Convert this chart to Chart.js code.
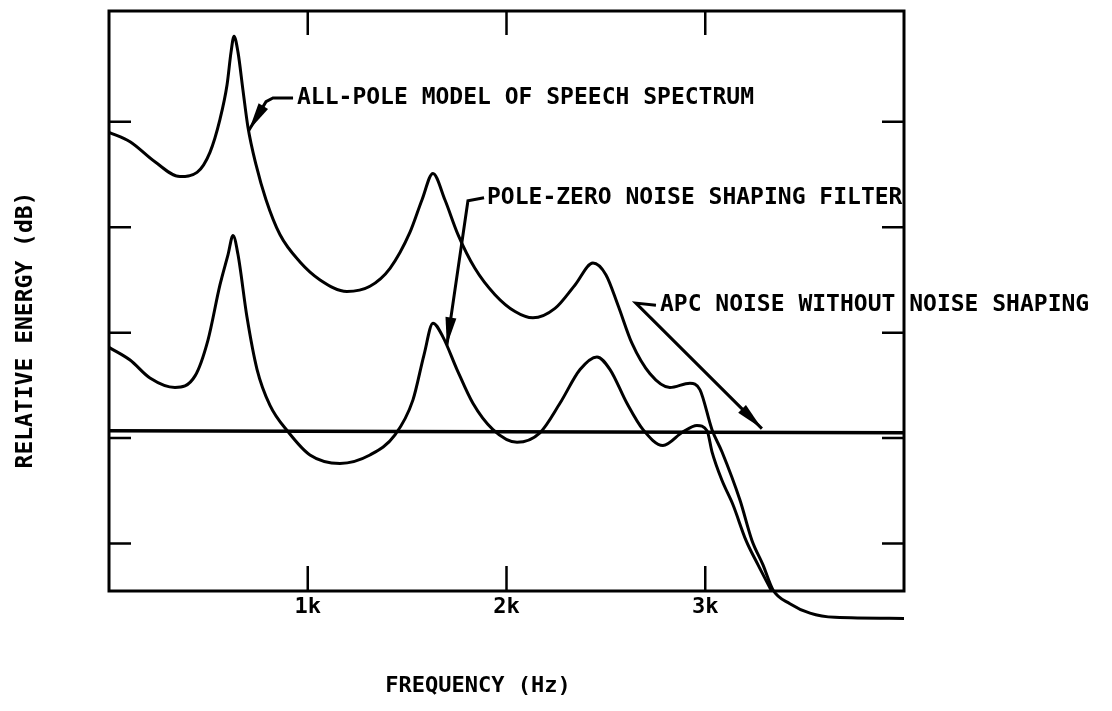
<!DOCTYPE html>
<html>
<head>
<meta charset="utf-8">
<title>Relative energy vs frequency</title>
<script src="https://cdn.jsdelivr.net/npm/chart.js@4.4.0/dist/chart.umd.min.js"></script>
<style>
  html, body { margin: 0; padding: 0; background: #fff; }
  canvas { display: block; }
</style>
</head>
<body>
<canvas id="spectrum" width="1112" height="711"></canvas>
<script>
// Axes: frequency in Hz, relative energy in dB (no numbers on the y axis)
const xTicks = [1000, 2000, 3000];
const xTickLabels = ['1k', '2k', '3k'];
const yTicks = [0, 10, 20, 30, 40];

// All-pole model of speech spectrum
const allPoleHz = [0, 106, 231, 357, 443, 508, 558, 594, 614, 629, 649, 674, 699, 740, 790, 860, 961, 1062, 1197, 1313, 1414, 1514, 1575, 1630, 1690, 1756, 1841, 1942, 2043, 2133, 2244, 2344, 2435, 2500, 2561, 2631, 2722, 2822, 2923, 2973, 3034, 3084, 3175, 3235, 3290, 3341, 3426, 3527, 3652, 4000];
const allPoleDb = [39.0, 38.1, 36.2, 34.8, 35.2, 37.1, 40.2, 43.5, 46.6, 48.1, 46.6, 43.0, 39.5, 35.9, 32.6, 29.3, 26.7, 25.0, 23.9, 24.4, 26.1, 29.5, 32.6, 35.1, 32.6, 29.3, 26.1, 23.6, 22.0, 21.4, 22.3, 24.5, 26.6, 25.5, 22.6, 19.0, 16.1, 14.8, 15.2, 14.6, 10.8, 8.7, 4.1, 0.3, -2.0, -4.4, -5.7, -6.6, -7.0, -7.1];

// Pole-zero noise shaping filter
const poleZeroHz = [0, 106, 206, 332, 433, 498, 558, 599, 624, 649, 694, 745, 810, 901, 1011, 1162, 1313, 1439, 1529, 1585, 1630, 1680, 1751, 1831, 1932, 2053, 2168, 2269, 2370, 2455, 2521, 2606, 2687, 2787, 2888, 2958, 3009, 3034, 3084, 3139, 3205, 3265, 3331];
const poleZeroDb = [18.6, 17.4, 15.7, 14.8, 15.9, 19.3, 24.5, 27.4, 29.2, 27.4, 21.5, 16.5, 13.1, 10.6, 8.4, 7.6, 8.4, 10.3, 13.6, 17.9, 20.9, 19.6, 16.5, 13.3, 10.8, 9.6, 10.5, 13.3, 16.5, 17.7, 16.5, 13.3, 10.8, 9.3, 10.6, 11.2, 10.7, 8.7, 6.0, 3.7, 0.3, -2.0, -4.4];

// APC noise without noise shaping (flat)
const flatHz = [0, 4000];
const flatDb = [10.7, 10.5];

// Callouts: text anchor and leader path, in data units (Hz, dB)
const callouts = [
  { text: 'ALL-POLE MODEL OF SPEECH SPECTRUM', at: [946, 42.25],
    path: [[926, 42.25], [825, 42.25], [790, 41.9], [704, 39.2]] },
  { text: 'POLE-ZERO NOISE SHAPING FILTER', at: [1902, 32.8],
    path: [[1887, 32.8], [1806, 32.5], [1700, 18.8]] },
  { text: 'APC NOISE WITHOUT NOISE SHAPING', at: [2772, 22.6],
    path: [[2752, 22.6], [2651, 22.8], [3285, 10.9]] }
];

function toPoints(xs, ys) {
  return xs.map((x, i) => ({ x: x, y: ys[i] }));
}

const FONT = '"DejaVu Sans Mono", monospace';

// frame, inward ticks, labels and callouts
const decorations = {
  id: 'decorations',
  afterDatasetsDraw(chart) {
    const ctx = chart.ctx;
    const a = chart.chartArea;
    const xs = chart.scales.x, ys = chart.scales.y;
    ctx.save();
    ctx.strokeStyle = '#000';
    ctx.fillStyle = '#000';
    ctx.lineCap = 'butt';

    ctx.lineWidth = 3;
    ctx.strokeRect(a.left, a.top, a.right - a.left, a.bottom - a.top);

    ctx.lineWidth = 2.5;
    ctx.beginPath();
    xTicks.forEach(v => {
      const px = xs.getPixelForValue(v);
      ctx.moveTo(px, a.top); ctx.lineTo(px, a.top + 24);
      ctx.moveTo(px, a.bottom); ctx.lineTo(px, a.bottom - 25);
    });
    yTicks.forEach(v => {
      const py = ys.getPixelForValue(v);
      ctx.moveTo(a.left, py); ctx.lineTo(a.left + 22, py);
      ctx.moveTo(a.right, py); ctx.lineTo(a.right - 22, py);
    });
    ctx.stroke();

    ctx.font = 'bold 22px ' + FONT;
    ctx.textAlign = 'center';
    ctx.textBaseline = 'middle';
    xTicks.forEach((v, i) => {
      ctx.fillText(xTickLabels[i], xs.getPixelForValue(v), a.bottom + 16);
    });

    ctx.fillText('FREQUENCY (Hz)', 478, 686);
    ctx.save();
    ctx.translate(26, 330);
    ctx.rotate(-Math.PI / 2);
    ctx.font = 'bold 23px ' + FONT;
    ctx.fillText('RELATIVE ENERGY (dB)', 0, 0);
    ctx.restore();

    ctx.font = 'bold 23px ' + FONT;
    ctx.textAlign = 'left';
    callouts.forEach(c => {
      ctx.fillText(c.text, xs.getPixelForValue(c.at[0]), ys.getPixelForValue(c.at[1]));
      const pts = c.path.map(p => [xs.getPixelForValue(p[0]), ys.getPixelForValue(p[1])]);
      ctx.lineWidth = 3;
      ctx.beginPath();
      pts.forEach((p, i) => i ? ctx.lineTo(p[0], p[1]) : ctx.moveTo(p[0], p[1]));
      ctx.stroke();
      // arrow head
      const tip = pts[pts.length - 1], prev = pts[pts.length - 2];
      const ang = Math.atan2(tip[1] - prev[1], tip[0] - prev[0]);
      const len = 28, w = 5.5;
      const bx = tip[0] - len * Math.cos(ang), by = tip[1] - len * Math.sin(ang);
      ctx.beginPath();
      ctx.moveTo(tip[0], tip[1]);
      ctx.lineTo(bx + w * Math.sin(ang), by - w * Math.cos(ang));
      ctx.lineTo(bx - w * Math.sin(ang), by + w * Math.cos(ang));
      ctx.closePath();
      ctx.fill();
    });
    ctx.restore();
  }
};

new Chart(document.getElementById('spectrum'), {
  type: 'line',
  data: {
    datasets: [
      { label: 'All-pole model of speech spectrum', data: toPoints(allPoleHz, allPoleDb),
        borderColor: '#000', borderWidth: 3 },
      { label: 'Pole-zero noise shaping filter', data: toPoints(poleZeroHz, poleZeroDb),
        borderColor: '#000', borderWidth: 3 },
      { label: 'APC noise without noise shaping', data: toPoints(flatHz, flatDb),
        borderColor: '#000', borderWidth: 3.5 }
    ]
  },
  options: {
    responsive: false,
    animation: false,
    layout: { padding: { left: 109, right: 208, top: 11, bottom: 120 } },
    datasets: {
      line: {
        pointRadius: 0,
        cubicInterpolationMode: 'monotone',
        clip: false,
        fill: false
      }
    },
    scales: {
      x: { type: 'linear', min: 0, max: 4000, display: false },
      y: { type: 'linear', min: -4.5, max: 50.5, display: false }
    },
    plugins: { legend: { display: false }, tooltip: { enabled: false } }
  },
  plugins: [decorations]
});
</script>
</body>
</html>
